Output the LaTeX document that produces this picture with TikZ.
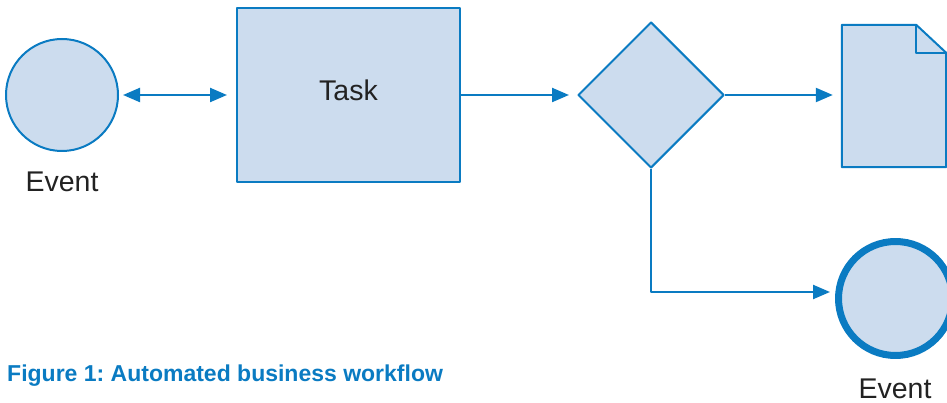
\documentclass[tikz,border=0pt]{standalone}
\usepackage{fontspec}
\setmainfont{Liberation Sans}
\usetikzlibrary{shapes.geometric,arrows.meta}
\definecolor{flowblue}{HTML}{0A7BC2}
\definecolor{flowfill}{HTML}{CCDCEE}
\definecolor{labelgray}{HTML}{222222}
\frenchspacing
\begin{document}
\begin{tikzpicture}[x=1pt, y=-1pt, line join=round,
	shp/.style={draw=flowblue, fill=flowfill, line width=2pt, inner sep=0pt},
	lbl/.style={text=labelgray, font=\fontsize{28.5}{32}\selectfont, inner sep=0pt},
	tip/.tip={Triangle[length=17pt,width=14pt]},
	flow/.style={draw=flowblue, line width=2.3pt, -tip}]
	\useasboundingbox (0,0) rectangle (947,403);
	% shapes
	\node[shp, circle, minimum size=112] (start) at (62,95) {};
	\node[shp, rectangle, minimum width=223, minimum height=174, lbl, text depth=10pt] (task) at (348.5,95) {Task};
	\node[shp, diamond, minimum width=146, minimum height=146] (gate) at (651,95) {};
	\node[minimum width=104, minimum height=142, inner sep=0pt] (doc) at (894,96) {};
	\draw[shp] (doc.north west)--([xshift=-30]doc.north east)--([yshift=-28]doc.north east)--(doc.south east)--(doc.south west)--cycle;
	\draw[draw=flowblue, line width=2pt] ([xshift=-30]doc.north east)|-([yshift=-28]doc.north east);
	\node[shp, circle, line width=7pt, minimum size=114] (end) at (895.5,298.5) {};
	% labels
	\node[lbl] (startlbl) at (62,182) {Event};
	\node[lbl] (endlbl) at (895,389) {Event};
	\node[anchor=west, inner sep=0pt, text=flowblue, font=\fontsize{23}{27}\selectfont\bfseries] (caption) at (7,376) {Figure 1: Automated business workflow};
	% connectors
	\draw[flow, tip-tip, shorten <=4pt, shorten >=9pt] (start)--(task);
	\draw[flow, shorten >=8pt] (task)--(gate);
	\draw[flow, shorten >=9pt] (gate.east)--(gate.east-|doc.west);
	\draw[flow, shorten >=5pt] (gate.south)|-([yshift=6.5pt]end.west);
\end{tikzpicture}
\end{document}
